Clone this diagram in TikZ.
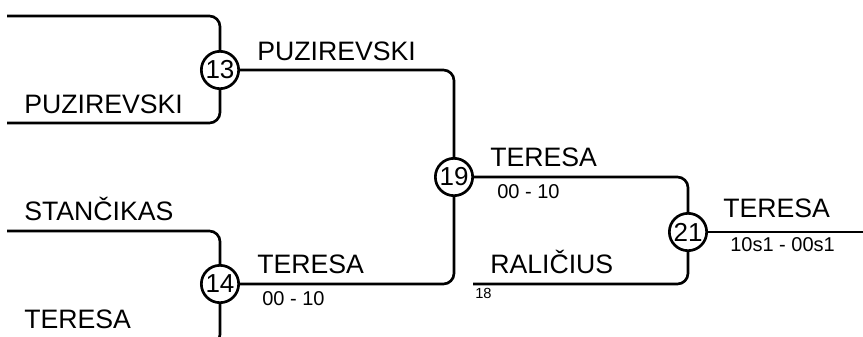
\documentclass[tikz,border=0pt]{standalone}
\usepackage{fontspec}
\setmainfont{Liberation Sans}
\begin{document}
\begin{tikzpicture}[x=0.75pt,y=-0.75pt,
  wire/.style={line width=2pt,rounded corners=8},
  matchnode/.style={circle,draw,line width=2pt,fill=white,inner sep=0pt,minimum size=28pt,font=\fontsize{19.5}{19.5}\selectfont},
  player/.style={anchor=base west,inner sep=0pt,font=\fontsize{20}{20}\selectfont},
  pscore/.style={anchor=base west,inner sep=0pt,font=\fontsize{15}{15}\selectfont},
  seednum/.style={anchor=base west,inner sep=0pt,font=\fontsize{11}{11}\selectfont}]
\useasboundingbox (0,0) rectangle (863,336);
\clip (0,0) rectangle (863,336);
% endpoints
\coordinate (a1) at (7,16);
\coordinate (a2) at (7,123);
\coordinate (b1) at (7,231);
\coordinate (b2) at (7,345);
\coordinate (c2) at (473,284);
\coordinate (out) at (870,232);
% matches
\node[matchnode] (m13) at (220,70) {13};
\node[matchnode] (m14) at (220,284) {14};
\node[matchnode] (m19) at (454,177) {19};
\node[matchnode] (m21) at (688,232) {21};
% connectors
\draw[wire] (a1) -| (m13);
\draw[wire] (a2) -| (m13);
\draw[wire] (b1) -| (m14);
\draw[wire] (b2) -| (m14);
\draw[wire] (m13) -| (m19);
\draw[wire] (m14) -| (m19);
\draw[wire] (m19) -| (m21);
\draw[wire] (c2) -| (m21);
\draw[wire] (m21) -- (out);
% labels
\node[player] (t1) at (24,113) {PUZIREVSKI};
\node[player] (t2) at (24,220) {STANČIKAS};
\node[player] (t3) at (24,328) {TERESA};
\node[player] (t4) at (257,60) {PUZIREVSKI};
\node[player] (t5) at (257,273) {TERESA};
\node[pscore] (s5) at (262,305) {00 - 10};
\node[player] (t6) at (490,166) {TERESA};
\node[pscore] (s6) at (497,198) {00 - 10};
\node[player] (t7) at (490,273) {RALIČIUS};
\node[seednum] (s7) at (475,298) {18};
\node[player] (t8) at (723,217) {TERESA};
\node[pscore] (s8) at (730,251) {10s1 - 00s1};
\end{tikzpicture}
\end{document}
